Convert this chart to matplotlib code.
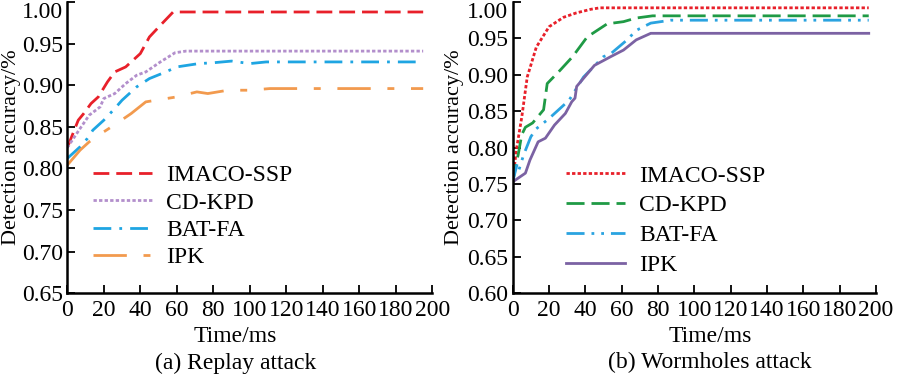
import matplotlib
matplotlib.use("Agg")
import matplotlib.pyplot as plt

plt.rcParams['font.family'] = ['Liberation Serif', 'DejaVu Serif']
FS = 17

# (a) Replay attack
imaco_a_x = [0, 6, 9, 13, 17, 22, 26, 32, 40, 45, 51, 58, 195]
imaco_a_y = [0.825, 0.858, 0.866, 0.878, 0.886, 0.904, 0.916, 0.922, 0.938, 0.958, 0.972, 0.988, 0.988]
cdkpd_a_x = [0, 7, 12, 18, 20, 26, 32, 38, 43, 51, 59, 65, 195]
cdkpd_a_y = [0.825, 0.848, 0.864, 0.874, 0.884, 0.890, 0.902, 0.912, 0.916, 0.928, 0.939, 0.941, 0.941]
batfa_a_x = [0, 7, 11, 14, 20, 26, 30, 38, 45, 54, 60, 72, 80, 90, 100, 109, 195]
batfa_a_y = [0.812, 0.826, 0.836, 0.846, 0.858, 0.872, 0.882, 0.898, 0.908, 0.916, 0.922, 0.926, 0.927, 0.929, 0.926, 0.928, 0.928]
ipk_a_x = [0, 7, 12, 20, 27, 31, 35, 43, 60, 71, 77, 88, 100, 111, 195]
ipk_a_y = [0.804, 0.822, 0.832, 0.844, 0.854, 0.860, 0.866, 0.880, 0.886, 0.892, 0.890, 0.894, 0.894, 0.896, 0.896]

# (b) Wormholes attack
imaco_b_x = [0, 2, 5, 8, 13, 20, 28, 35, 43, 48, 196]
imaco_b_y = [0.753, 0.797, 0.842, 0.897, 0.938, 0.966, 0.979, 0.985, 0.990, 0.992, 0.992]
cdkpd_b_x = [0, 2, 3, 5, 7, 11, 17, 19, 26, 33, 41, 52, 61, 68, 77, 196]
cdkpd_b_y = [0.753, 0.780, 0.790, 0.818, 0.828, 0.834, 0.852, 0.888, 0.906, 0.925, 0.952, 0.970, 0.973, 0.978, 0.981, 0.981]
batfa_b_x = [0, 2.5, 3.5, 6, 10, 13, 20, 31, 39, 50, 54, 63, 68, 76, 87, 196]
batfa_b_y = [0.753, 0.778, 0.770, 0.790, 0.815, 0.826, 0.840, 0.865, 0.897, 0.925, 0.929, 0.948, 0.961, 0.971, 0.975, 0.975]
ipk_b_x = [0, 7, 9.5, 14, 18, 23, 29, 32.5, 34.3, 35.2, 45, 54, 61, 68, 76, 196]
ipk_b_y = [0.753, 0.765, 0.783, 0.808, 0.813, 0.831, 0.847, 0.863, 0.868, 0.884, 0.913, 0.925, 0.934, 0.948, 0.957, 0.957]

labels = ["IMACO-SSP", "CD-KPD", "BAT-FA", "IPK"]
xticks = [0, 20, 40, 60, 80, 100, 120, 140, 160, 180, 200]

fig = plt.figure(figsize=(9, 3.78), dpi=100)
ax1 = fig.add_axes([67.3 / 900, 1 - 293.3 / 378, 365 / 900, 291.3 / 378])
ax2 = fig.add_axes([512.7 / 900, 1 - 293.3 / 378, 363.3 / 900, 291.3 / 378])

lw = 2.0
ax1.plot(imaco_a_x, imaco_a_y, color='#e8202a', lw=lw, dashes=(5.7, 2.5), label=labels[0])
ax1.plot(cdkpd_a_x, cdkpd_a_y, color='#b38fcc', lw=lw, dashes=(1.2, 0.8), label=labels[1])
ax1.plot(batfa_a_x, batfa_a_y, color='#1ea5e2', lw=lw, dashes=(6.4, 2.9, 1, 2.9), label=labels[2])
ax1.plot(ipk_a_x, ipk_a_y, color='#f29a4e', lw=lw, dashes=(12, 6, 2.5, 6), label=labels[3])

ax2.plot(imaco_b_x, imaco_b_y, color='#e8202a', lw=lw, dashes=(1.2, 0.8), label=labels[0])
ax2.plot(cdkpd_b_x, cdkpd_b_y, color='#1f9a45', lw=lw, dashes=(6.5, 2.5), label=labels[1])
ax2.plot(batfa_b_x, batfa_b_y, color='#2aa3e0', lw=lw, dashes=(6.5, 2.5, 1, 2.5, 1, 2.5), label=labels[2])
ax2.plot(ipk_b_x, ipk_b_y, color='#7b62a3', lw=lw, label=labels[3])

setup = [
    (ax1, 0.65, [0.65, 0.70, 0.75, 0.80, 0.85, 0.90, 0.95, 1.00], "(a) Replay attack", 0.46, -0.127, (0.070, 0.442), 0.25),
    (ax2, 0.60, [0.60, 0.65, 0.70, 0.75, 0.80, 0.85, 0.90, 0.95, 1.00], "(b) Wormholes attack", 0.543, -0.134, (0.147, 0.440), 0.35),
]
for ax, ymin, yticks, caption, xc, ylx, leg, lsp in setup:
    ax.set_xlim(0, 200)
    ax.set_ylim(ymin, 1.0)
    ax.set_xticks(xticks)
    ax.set_yticks(yticks)
    ax.set_yticklabels([f"{v:.2f}" for v in yticks])
    ax.spines['top'].set_visible(False)
    ax.spines['right'].set_visible(False)
    for s in ('left', 'bottom'):
        ax.spines[s].set_linewidth(1.8)
    ax.tick_params(direction='in', length=5.5, width=1.3, labelsize=FS)
    ax.tick_params(axis='y', pad=3)
    ax.tick_params(axis='x', pad=5)
    ax.get_yticklabels()[-1].set_va('top')
    ax.set_xlabel("Time/ms", fontsize=FS)
    ax.xaxis.set_label_coords(xc, -0.112)
    ax.set_ylabel("Detection accuracy/%", fontsize=16)
    ax.yaxis.set_label_coords(ylx, 0.5)
    ax.text(xc, -0.239, caption, transform=ax.transAxes, ha='center', va='center', fontsize=FS)
    ax.legend(loc='upper left', bbox_to_anchor=leg, frameon=False, borderpad=0,
              borderaxespad=0, handlelength=2.5, handletextpad=0.6, labelspacing=lsp,
              fontsize=FS)

fig.savefig("out.png", dpi=100)
